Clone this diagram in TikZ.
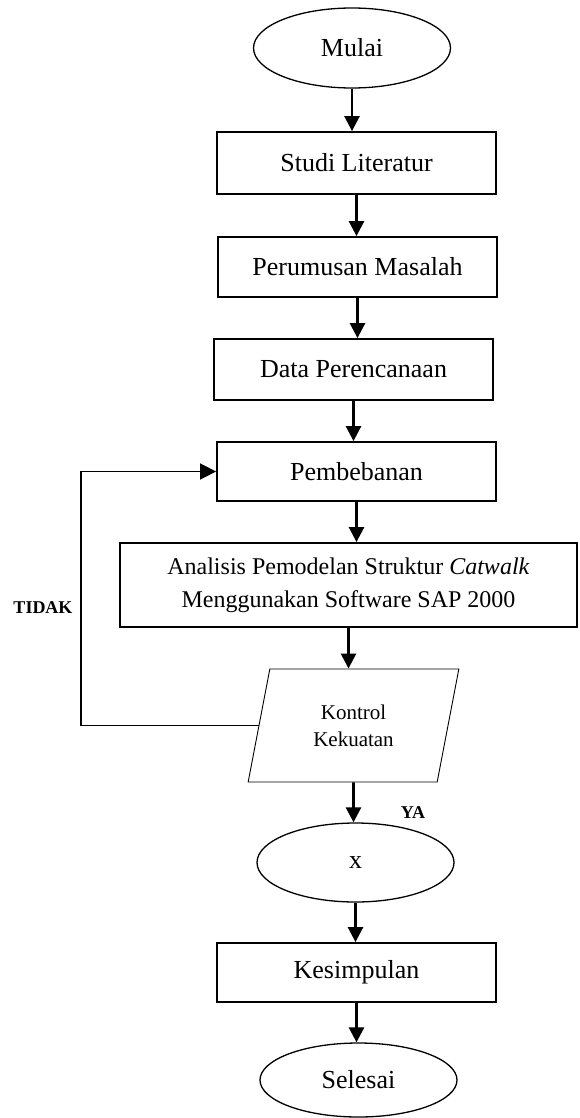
\documentclass[tikz,border=0pt]{standalone}
\usepackage{fontspec}
\setmainfont{Liberation Serif}
\usetikzlibrary{arrows.meta,shapes.geometric}

\begin{document}
\begin{tikzpicture}[x=1pt,y=1pt,
    box/.style = {rectangle,draw=black,line width=1.8pt,minimum width=279pt,inner sep=0pt,
                  font=\fontsize{26}{31}\selectfont},
    oval/.style = {ellipse,draw=black,line width=1.3pt,minimum width=197pt,inner sep=0pt,
                   font=\fontsize{26}{31}\selectfont},
    io/.style = {trapezium,trapezium left angle=76,trapezium right angle=104,trapezium stretches=true,
                 draw=black,line width=0.9pt,minimum width=211pt,minimum height=113pt,inner sep=0pt,
                 align=center,font=\fontsize{21}{27}\selectfont},
    arrow/.style = {-{Triangle[width=15pt,length=15pt]},draw=black,line width=2.6pt},
    loopline/.style = {-{Triangle[width=16pt,length=16pt]},draw=black,line width=1.6pt},
    answer/.style = {font=\fontsize{18}{22}\selectfont\bfseries}]
\useasboundingbox (0,0) rectangle (579,-1118);
\node[oval, minimum height=80pt] (start) at (352,-48) {Mulai};
\node[box, minimum height=62pt] (studi) at (356.5,-163) {Studi Literatur};
\node[box, minimum height=60pt] (rumus) at (357.5,-267) {Perumusan Masalah};
\node[box, minimum height=61pt] (data) at (353.5,-369.5) {Data Perencanaan};
\node[box, minimum height=59pt] (beban) at (356.5,-471.5) {Pembebanan};
\node[box, minimum width=457pt, minimum height=84pt, align=center,
      font=\fontsize{24}{33}\selectfont] (analisis) at (348.5,-585)
      {Analisis Pemodelan Struktur \textit{Catwalk}\\Menggunakan Software SAP 2000};
\node[io] (kontrol) at (353.5,-725.5) {Kontrol\\Kekuatan};
\node[oval, minimum height=79pt] (x) at (355.5,-862.5) {x};
\node[box, minimum height=59pt] (simpul) at (356.5,-972.5) {Kesimpulan};
\node[oval, minimum height=74pt] (selesai) at (358.5,-1080) {Selesai};
% jalur utama
\foreach \a/\b in {start/studi, studi/rumus, rumus/data, data/beban, beban/analisis,
                   analisis/kontrol, kontrol/x, x/simpul, simpul/selesai}
    \draw[arrow] (\a) -- (\a |- \b.north);
% kembali ke pembebanan
\coordinate (balik) at (81,-720);
\draw[loopline] (kontrol.west) -- (kontrol.west -| balik) |- (beban.west);
\node[answer] (tidak) at (43,-608) {TIDAK};
\node[answer] (ya) at (413,-813) {YA};
\end{tikzpicture}
\end{document}
